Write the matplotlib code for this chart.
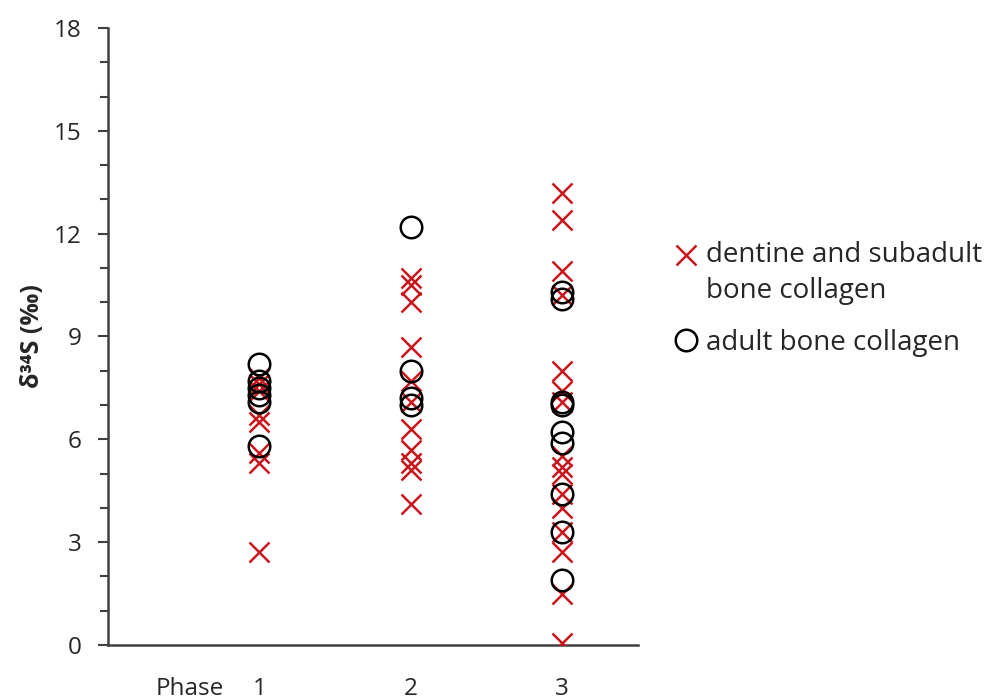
import matplotlib
matplotlib.use('Agg')
import numpy as np
import matplotlib.pyplot as plt
from matplotlib.ticker import MultipleLocator
from matplotlib.legend_handler import HandlerLine2D

plt.rcParams['font.family'] = ['Open Sans', 'DejaVu Sans']

# d34S values per phase
phase1_dentine = [7.8, 7.6, 7.4, 6.7, 6.5, 5.6, 5.3, 2.7]
phase1_adult = [8.2, 7.7, 7.5, 7.3, 7.1, 5.8]
phase2_dentine = [10.7, 10.5, 10.0, 8.7, 7.7, 7.1, 6.3, 5.7, 5.3, 5.1, 4.1]
phase2_adult = [12.2, 8.0, 7.2, 7.0]
phase3_dentine = [13.2, 12.4, 10.9, 10.2, 8.0, 7.4, 7.1, 5.5, 5.2, 5.0,
                  4.4, 4.0, 3.3, 2.7, 1.5, 0.05]
phase3_adult = [10.3, 10.1, 7.1, 7.0, 6.2, 5.9, 4.4, 3.3, 1.9]

phases = [1, 2, 3]
dentine = [phase1_dentine, phase2_dentine, phase3_dentine]
adult = [phase1_adult, phase2_adult, phase3_adult]

red = '#C8161D'
axis_col = '#404040'
text_col = '#262626'
fs = 17.5
fs_leg = 20
line_gap = 1.38


class HandlerFirstLine(HandlerLine2D):
    """Puts the legend marker level with the first line of a wrapped label."""
    def __init__(self, shift, **kw):
        super().__init__(**kw)
        self.shift = shift

    def create_artists(self, legend, orig_handle, xdescent, ydescent,
                       width, height, fontsize, trans):
        artists = super().create_artists(legend, orig_handle, xdescent,
                                         ydescent, width, height, fontsize,
                                         trans)
        for a in artists:
            a.set_ydata(np.asarray(a.get_ydata(), dtype=float) + self.shift)
        return artists


fig = plt.figure(figsize=(9.87, 7), dpi=100)
ax = fig.add_axes([0.1094, 0.0786, 0.537, 0.8814])

for i, p in enumerate(phases):
    line = ax.plot([p] * len(dentine[i]), dentine[i], linestyle='none',
                   marker='x', ms=14, mew=1.8, color=red)[0]
    if i == 0:
        h_dentine = line
for i, p in enumerate(phases):
    line = ax.plot([p] * len(adult[i]), adult[i], linestyle='none',
                   marker='o', ms=15.5, mew=1.8, mfc='none', mec='black')[0]
    if i == 0:
        h_adult = line

ax.set_xlim(0, 3.5)
ax.set_ylim(0, 18)
ax.yaxis.set_major_locator(MultipleLocator(3))
ax.yaxis.set_minor_locator(MultipleLocator(1))
ax.set_xticks(phases)
ax.set_xticklabels([str(p) for p in phases])
ax.tick_params(axis='x', length=0, pad=23, labelsize=fs, labelcolor=text_col)
ax.tick_params(axis='y', which='major', direction='out', length=7, width=1.5,
               color=axis_col, labelsize=fs, labelcolor=text_col, pad=12)
ax.tick_params(axis='y', which='minor', direction='out', length=6, width=1.5,
               color=axis_col)
for side in ['top', 'right']:
    ax.spines[side].set_visible(False)
for side in ['left', 'bottom']:
    ax.spines[side].set_color(axis_col)
    ax.spines[side].set_linewidth(1.8)
ax.spines['bottom'].set_zorder(0)

ax.annotate('Phase', xy=(0.54, 0), xycoords=ax.get_xaxis_transform(),
            xytext=(0, -23), textcoords='offset points',
            ha='center', va='top', fontsize=fs, color=text_col)
ax.set_ylabel('δ³⁴S (‰)', fontsize=18, fontweight='bold', color=text_col,
              labelpad=6)

leg = ax.legend([h_dentine, h_adult],
                ['dentine and subadult\nbone collagen', 'adult bone collagen'],
                loc='upper left', bbox_to_anchor=(0.684, 0.655),
                bbox_transform=fig.transFigure, frameon=False, fontsize=fs_leg,
                handlelength=0.75, handletextpad=0.35, labelspacing=0.85,
                labelcolor=text_col, borderaxespad=0, borderpad=0,
                handler_map={h_dentine: HandlerFirstLine(shift=fs_leg * 0.7)})
for t in leg.get_texts():
    t.set_linespacing(line_gap)

fig.savefig('out.png', dpi=100)
